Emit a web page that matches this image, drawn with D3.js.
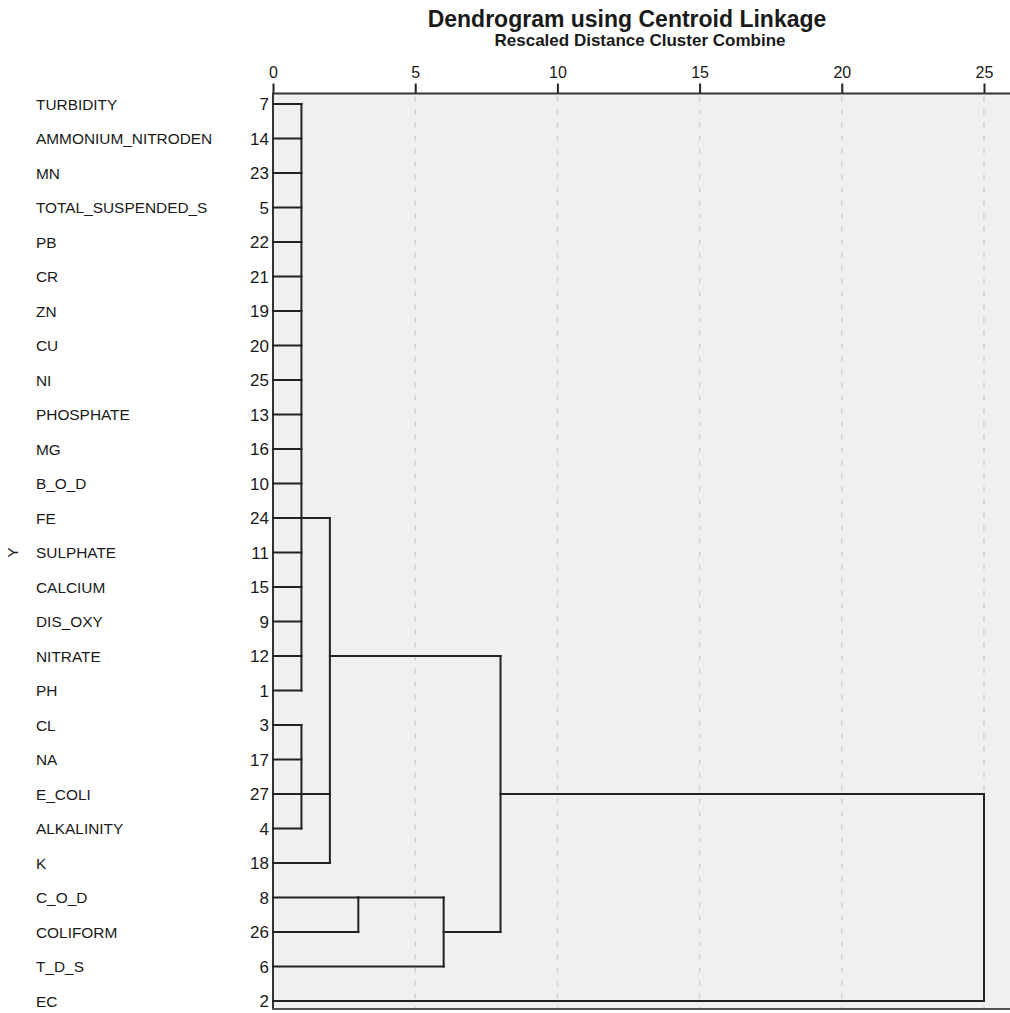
<!DOCTYPE html>
<html>
<head>
<meta charset="utf-8">
<script src="https://cdn.jsdelivr.net/npm/d3@7"></script>
<style>
  html, body { margin: 0; padding: 0; background: #ffffff; }
  svg { display: block; }
  text { font-family: "Liberation Sans", Arial, sans-serif; fill: #1a1a1a; }
</style>
</head>
<body>
<svg id="chart" width="1010" height="1013"></svg>
<script>
// ---------- data ----------
const leafLabels = ["TURBIDITY","AMMONIUM_NITRODEN","MN","TOTAL_SUSPENDED_S","PB","CR","ZN","CU","NI",
  "PHOSPHATE","MG","B_O_D","FE","SULPHATE","CALCIUM","DIS_OXY","NITRATE","PH","CL","NA","E_COLI",
  "ALKALINITY","K","C_O_D","COLIFORM","T_D_S","EC"];
const caseNumbers = [7,14,23,5,22,21,19,20,25,13,16,10,24,11,15,9,12,1,3,17,27,4,18,8,26,6,2];

// merges: names, children (leaf index numbers or merge names), rescaled heights, row of outgoing line
const mergeNames    = ["A","B","C","D","E","F","G"];
const mergeChildren = [
  [0,1,2,3,4,5,6,7,8,9,10,11,12,13,14,15,16,17],
  [18,19,20,21],
  ["A","B",22],
  [23,24],
  ["D",25],
  ["C","E"],
  ["F",26]
];
const mergeHeights  = [1, 1, 2, 3, 6, 8, 25];
const mergeOutRows  = [12, 20, 16, 23, 24, 20, null];

const tickValues = [0, 5, 10, 15, 20, 25];
const titleText = "Dendrogram using Centroid Linkage";
const subtitleText = "Rescaled Distance Cluster Combine";
const yAxisTitle = "Y";

// ---------- layout ----------
const svg = d3.select("#chart");
const plotLeft = 273, plotRight = 1010, plotTop = 93.5, plotBottom = 1009;

const x = d3.scaleLinear().domain([0, 25]).range([plotLeft, 984]);
const y = d3.scalePoint().domain(d3.range(leafLabels.length)).range([104, 1001]);

// background
svg.append("rect").attr("x", plotLeft).attr("y", plotTop)
  .attr("width", plotRight - plotLeft).attr("height", plotBottom - plotTop)
  .attr("fill", "#f0f0f0");

// grid
svg.append("g").selectAll("line").data(tickValues.filter(d => d > 0)).join("line")
  .attr("x1", d => x(d)).attr("x2", d => x(d))
  .attr("y1", plotTop + 3).attr("y2", plotBottom - 1)
  .attr("stroke", "#d2d2d2").attr("stroke-width", 1.6)
  .attr("stroke-dasharray", "5,8");

// top axis
const axis = d3.axisTop(x).tickValues(tickValues).tickSize(10).tickPadding(6).tickFormat(d3.format("d"));
const ag = svg.append("g").attr("transform", `translate(0,${plotTop})`).call(axis);
ag.select(".domain").remove();
ag.selectAll(".tick line").attr("stroke", "#222").attr("stroke-width", 2);
ag.selectAll(".tick text").attr("font-size", 16).attr("fill", "#1a1a1a")
  .attr("font-family", "'Liberation Sans', Arial, sans-serif");

// frame lines
svg.append("line").attr("x1", plotLeft - 1).attr("x2", plotRight).attr("y1", plotTop).attr("y2", plotTop)
  .attr("stroke", "#333").attr("stroke-width", 2);
svg.append("line").attr("x1", plotLeft).attr("x2", plotLeft).attr("y1", plotTop).attr("y2", plotBottom)
  .attr("stroke", "#333").attr("stroke-width", 2);
svg.append("line").attr("x1", plotLeft - 1).attr("x2", plotRight).attr("y1", plotBottom).attr("y2", plotBottom)
  .attr("stroke", "#555").attr("stroke-width", 2);

// titles
svg.append("text").attr("x", 627).attr("y", 27).attr("text-anchor", "middle")
  .attr("font-size", 23).attr("font-weight", "bold").text(titleText);
svg.append("text").attr("x", 640).attr("y", 46).attr("text-anchor", "middle")
  .attr("font-size", 17).attr("font-weight", "bold").text(subtitleText);

// leaf labels and case numbers
svg.append("g").selectAll("text").data(leafLabels).join("text")
  .attr("x", 36).attr("y", (d, i) => y(i)).attr("dy", "0.38em")
  .attr("font-size", 15.4).text(d => d);
svg.append("g").selectAll("text").data(caseNumbers).join("text")
  .attr("x", 269).attr("y", (d, i) => y(i)).attr("dy", "0.36em")
  .attr("text-anchor", "end").attr("font-size", 17).text(d => d);

// y axis title (rotated)
svg.append("text").attr("transform", `translate(18,${y(13)}) rotate(-90)`)
  .attr("text-anchor", "middle").attr("font-size", 15).text(yAxisTitle);

// ---------- dendrogram lines ----------
const nodeInfo = {};
leafLabels.forEach((d, i) => { nodeInfo[i] = { h: 0, row: i }; });
const segs = [];
mergeNames.forEach((name, k) => {
  const h = mergeHeights[k];
  const kids = mergeChildren[k].map(c => nodeInfo[c]);
  kids.forEach(c => segs.push({ x1: x(c.h), x2: x(h), y1: y(c.row), y2: y(c.row) }));
  const rows = kids.map(c => c.row);
  segs.push({ x1: x(h), x2: x(h), y1: y(d3.min(rows)), y2: y(d3.max(rows)) });
  nodeInfo[name] = { h: h, row: mergeOutRows[k] };
});

svg.append("g").selectAll("line").data(segs).join("line")
  .attr("x1", d => d.x1).attr("x2", d => d.x2).attr("y1", d => d.y1).attr("y2", d => d.y2)
  .attr("stroke", "#222").attr("stroke-width", 2).attr("stroke-linecap", "square");
</script>
</body>
</html>
